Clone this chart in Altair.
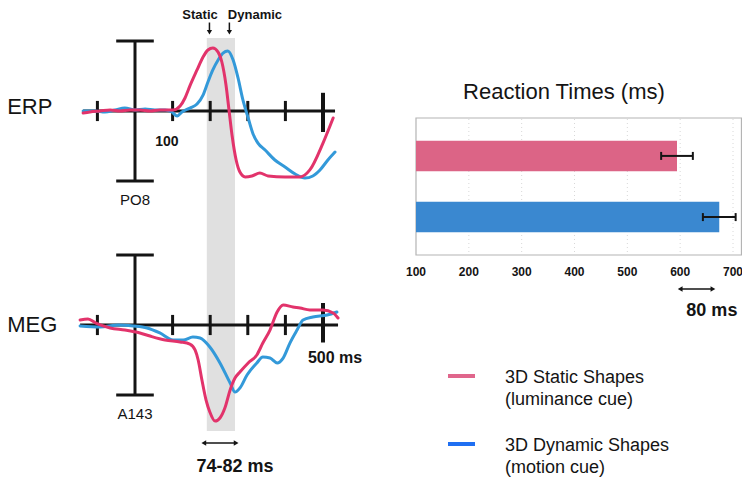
import altair as alt
import pandas as pd

FONT = "Liberation Sans, Arial, Helvetica, sans-serif"

# ---------------- data ----------------
SERIES = ["3D Static Shapes", "3D Dynamic Shapes"]
SERIES_SUB = ["(luminance cue)", "(motion cue)"]

# ERP at PO8: (time ms, amplitude)
erp_static = [(-138, -0.14), (-120, -0.07), (-93, 0), (-66, 0.07), (-40, 0), (-13, 0.07),
              (13, 0.07), (40, 0), (66, 0.07), (88, 0.07), (101, 0.07), (120, 0.36),
              (133, 0.93), (146, 1.79), (165, 2.93), (181, 3.86), (194, 4.36), (207, 4.5),
              (221, 4.21), (231, 3.5), (242, 1.86), (250, 0.07), (258, -1.71), (269, -3.5),
              (279, -4.36), (293, -4.71), (311, -4.64), (332, -4.43), (354, -4.64),
              (399, -4.71), (439, -4.71), (465, -4.21), (500, -2.29), (527, -0.5)]
erp_dynamic = [(-138, 0), (-106, 0), (-80, -0.07), (-53, 0.07), (-27, 0.21), (0, 0.07),
               (27, 0.14), (53, 0.07), (80, 0.07), (98, -0.07), (112, -0.36), (125, -0.07),
               (146, 0.21), (165, 0.5), (181, 1.14), (194, 2.07), (207, 2.93), (221, 3.64),
               (234, 4.14), (247, 4.29), (261, 3.64), (274, 2.36), (287, 0.79), (301, -0.5),
               (314, -1.64), (327, -2.29), (346, -2.79), (372, -3.5), (399, -4.0),
               (426, -4.5), (452, -4.79), (473, -4.64), (492, -4.21), (513, -3.5), (532, -2.93)]

# MEG at A143
meg_static = [(-146, 0.36), (-125, 0.43), (-104, 0.14), (-66, -0.21), (-27, -0.36), (13, -0.57),
              (40, -0.79), (80, -1.07), (120, -1.21), (146, -1.36), (160, -1.79), (168, -2.5),
              (178, -3.93), (189, -5.36), (199, -6.21), (213, -6.86), (226, -6.64), (239, -5.93),
              (253, -4.64), (266, -3.79), (279, -3.36), (301, -2.71), (324, -2.14), (340, -1.29),
              (359, -0.36), (378, 0.93), (394, 1.43), (420, 1.29), (439, 1.21), (465, 1.07),
              (500, 1.07), (527, 0.86), (540, 0.5)]
meg_dynamic = [(-146, -0.07), (-93, -0.14), (-45, 0), (-5, -0.07), (32, -0.21), (66, -0.57),
               (101, -1.07), (128, -1.07), (154, -0.86), (173, -0.93), (199, -1.57), (226, -2.71),
               (253, -4.14), (266, -4.79), (279, -4.5), (298, -3.57), (324, -2.71), (340, -2.29),
               (359, -2.36), (378, -2.71), (394, -2.36), (412, -1.29), (431, -0.36), (447, 0.36),
               (473, 0.57), (511, 0.71), (537, 0.93)]

time_ticks = [-100, 100, 200, 300, 400]
end_tick = 500
latency_window = (191, 266)          # shaded window, ms
peak_marks = [("Static", 198), ("Dynamic", 251)]

# Reaction times
conditions = ["Static", "Dynamic"]
rt_mean = [594, 674]
rt_err = [30, 31]
rt_ticks = [100, 200, 300, 400, 500, 600, 700]

# ---------------- styling ----------------
RED = "#e2336b"
BLUE = "#3399d9"
BAR_PINK = "#dc6486"
BAR_BLUE = "#3a88d0"
LEG_PINK = "#e0668c"
LEG_BLUE = "#1f6ff2"
INK = "#141414"
BAND = "#e0e0e0"

W, H = 734, 470


def px(v):
    """page pixel -> chart pixel (8px page margin, zero padding)"""
    return v - 8


def wave_panel(static, dynamic, zero_y, axis_span, end_span, band_span, name, name_amp,
               sensor, sensor_amp, extra_bold):
    xs = alt.Scale(domain=[0, 500], range=[px(135), px(323)], nice=False, zero=False)
    ys = alt.Scale(domain=[-5, 5], range=[px(zero_y + 70), px(zero_y - 70)], nice=False, zero=False)

    def X(f):
        return alt.X(f, type="quantitative", scale=xs, axis=None)

    def Y(f):
        return alt.Y(f, type="quantitative", scale=ys, axis=None)

    band = alt.Chart(pd.DataFrame([{"t1": latency_window[0], "t2": latency_window[1],
                                    "a1": band_span[0], "a2": band_span[1]}])).mark_rect(
        color=BAND).encode(x=X("t1"), x2="t2", y=Y("a1"), y2="a2")

    segs = [{"t1": axis_span[0], "t2": axis_span[1], "a1": 0, "a2": 0}]
    for t in time_ticks:
        segs.append({"t1": t, "t2": t, "a1": -0.72, "a2": 0.72})
    segs.append({"t1": 0, "t2": 0, "a1": -5, "a2": 5})
    segs.append({"t1": -50, "t2": 50, "a1": 5, "a2": 5})
    segs.append({"t1": -50, "t2": 50, "a1": -5, "a2": -5})
    rules = alt.Chart(pd.DataFrame(segs)).mark_rule(color=INK, strokeWidth=3).encode(
        x=X("t1"), x2="t2", y=Y("a1"), y2="a2")
    endt = alt.Chart(pd.DataFrame([{"t": end_tick, "a1": end_span[0], "a2": end_span[1]}])).mark_rule(
        color=INK, strokeWidth=4).encode(x=X("t"), y=Y("a1"), y2="a2")

    def curve(pts, col):
        df = pd.DataFrame(pts, columns=["t", "v"])
        return alt.Chart(df).mark_line(color=col, strokeWidth=3, interpolate="monotone",
                                       strokeCap="round").encode(x=X("t"), y=Y("v"))

    label = alt.Chart(pd.DataFrame([{"t": -340, "a": name_amp, "s": name}])).mark_text(
        font=FONT, fontSize=22, align="left", baseline="middle", color=INK).encode(
        x=X("t"), y=Y("a"), text="s:N")
    sens = alt.Chart(pd.DataFrame([{"t": 0, "a": sensor_amp, "s": sensor}])).mark_text(
        font=FONT, fontSize=15, align="center", baseline="middle", color=INK).encode(
        x=X("t"), y=Y("a"), text="s:N")
    layers = [band, rules, endt, curve(dynamic, BLUE), curve(static, RED), label, sens]
    for (t, a, s, fs) in extra_bold:
        layers.append(alt.Chart(pd.DataFrame([{"t": t, "a": a, "s": s}])).mark_text(
            font=FONT, fontSize=fs, fontWeight="bold", align="center", baseline="middle",
            color=INK).encode(x=X("t"), y=Y("a"), text="s:N"))
    return layers, X, Y


# ERP panel
erp_layers, EX, EY = wave_panel(erp_static, erp_dynamic, 111, (-138, 532), (1.3, -1.5),
                                (5.21, -9.22), "ERP", 0.29, "PO8", -6.36,
                                [(85, -2.2, "100", 14)])
# peak markers: labels and arrows
pk = pd.DataFrame([{"name": n, "t": t} for n, t in peak_marks])
pk_lab = pd.DataFrame([{"name": "Static", "t": 173}, {"name": "Dynamic", "t": 319}])
erp_layers.append(alt.Chart(pk_lab).transform_calculate(a="6.86").mark_text(
    font=FONT, fontSize=13, fontWeight="bold", baseline="middle", color=INK).encode(
    x=EX("t"), y=EY("a"), text="name:N"))
erp_layers.append(alt.Chart(pk).transform_calculate(a1="6.32", a2="5.75").mark_rule(
    color=INK, strokeWidth=1.5).encode(x=EX("t"), y=EY("a1"), y2="a2"))
erp_layers.append(alt.Chart(pk).transform_calculate(a="5.62").mark_point(
    shape="triangle-down", filled=True, color=INK, size=28, opacity=1).encode(
    x=EX("t"), y=EY("a")))
erp = alt.layer(*erp_layers)

# MEG panel
meg_layers, MX, MY = wave_panel(meg_static, meg_dynamic, 325, (-146, 540), (1.57, -1.25),
                                (6.07, -7.57), "MEG", 0.0, "A143", -6.36,
                                [(532, -2.36, "500 ms", 16), (266, -10.14, "74-82 ms", 18)])
arr = pd.DataFrame([{"t1": latency_window[0] - 8, "t2": latency_window[1] + 3, "a": -8.43}])
meg_layers.append(alt.Chart(arr).mark_rule(color=INK, strokeWidth=1.5).encode(
    x=MX("t1"), x2="t2", y=MY("a")))
meg_layers.append(alt.Chart(arr).mark_point(shape="triangle-left", filled=True, color=INK,
                                            size=30, opacity=1).encode(x=MX("t1"), y=MY("a")))
meg_layers.append(alt.Chart(arr).mark_point(shape="triangle-right", filled=True, color=INK,
                                            size=30, opacity=1).encode(x=MX("t2"), y=MY("a")))
meg = alt.layer(*meg_layers)

# Reaction-time bars
bx = alt.Scale(domain=[100, 700], range=[px(416), px(733)], nice=False, zero=False)
by = alt.Scale(domain=conditions, range=[px(118), px(255)], paddingInner=0.5, paddingOuter=0.37)


def BX(f):
    return alt.X(f, type="quantitative", scale=bx, axis=None)


def BY(f):
    return alt.Y(f, type="nominal", scale=by, axis=None)


rt = pd.DataFrame({"cond": conditions, "rt": rt_mean, "err": rt_err, "base": 100})
rt["lo"] = rt["rt"] - rt["err"]
rt["hi"] = rt["rt"] + rt["err"]

box = alt.Chart(pd.DataFrame([{"a": 100, "b": 716}])).mark_rect(
    fillOpacity=0, stroke="#b4b4b4", strokeWidth=1.2).encode(
    x=BX("a"), x2="b", y=alt.value(px(118)), y2=alt.value(px(255)))
grid = alt.Chart(pd.DataFrame({"v": rt_ticks[1:]})).mark_rule(
    color="#d8d8d8", strokeDash=[1, 3], strokeWidth=1).encode(
    x=BX("v"), y=alt.value(px(119)), y2=alt.value(px(254)))
bars = alt.Chart(rt).mark_bar(opacity=1).encode(
    x=BX("base"), x2="rt", y=BY("cond"),
    color=alt.Color("cond:N", scale=alt.Scale(domain=conditions, range=[BAR_PINK, BAR_BLUE]),
                    legend=None))
err = alt.Chart(rt).mark_rule(color=INK, strokeWidth=2).encode(x=BX("lo"), x2="hi", y=BY("cond"))
cap_lo = alt.Chart(rt).mark_tick(orient="vertical", size=8, thickness=2, color=INK, opacity=1).encode(
    x=BX("lo"), y=BY("cond"))
cap_hi = alt.Chart(rt).mark_tick(orient="vertical", size=8, thickness=2, color=INK, opacity=1).encode(
    x=BX("hi"), y=BY("cond"))
tick_lab = alt.Chart(pd.DataFrame({"v": rt_ticks, "s": [str(v) for v in rt_ticks]})).mark_text(
    font=FONT, fontSize=12, fontWeight="bold", baseline="middle", color=INK).encode(
    x=BX("v"), y=alt.value(px(272)), text="s:N")
title = alt.Chart(pd.DataFrame([{"v": 380, "s": "Reaction Times (ms)"}])).mark_text(
    font=FONT, fontSize=22, baseline="middle", color=INK).encode(
    x=BX("v"), y=alt.value(px(92)), text="s:N")
diff = pd.DataFrame([{"a": 600, "b": 662, "c": 660, "s": "80 ms"}])
diff_rule = alt.Chart(diff).mark_rule(color=INK, strokeWidth=1.5).encode(
    x=BX("a"), x2="b", y=alt.value(px(289)))
diff_l = alt.Chart(diff).mark_point(shape="triangle-left", filled=True, color=INK, size=30,
                                    opacity=1).encode(x=BX("a"), y=alt.value(px(289)))
diff_r = alt.Chart(diff).mark_point(shape="triangle-right", filled=True, color=INK, size=30,
                                    opacity=1).encode(x=BX("b"), y=alt.value(px(289)))
diff_t = alt.Chart(diff).mark_text(font=FONT, fontSize=18, fontWeight="bold", baseline="middle",
                                   color=INK).encode(x=BX("c"), y=alt.value(px(311)), text="s:N")
rtpanel = alt.layer(box, grid, bars, err, cap_lo, cap_hi, tick_lab, title,
                    diff_rule, diff_l, diff_r, diff_t)

# Legend
leg = pd.DataFrame({"series": SERIES,
                    "label": [a + "\n" + b for a, b in zip(SERIES, SERIES_SUB)]})
ly = alt.Scale(type="point", domain=SERIES, range=[px(376), px(444)], padding=0)
sw = alt.Chart(leg).mark_rule(strokeWidth=4).encode(
    x=alt.value(px(448)), x2=alt.value(px(475)),
    y=alt.Y("series:N", scale=ly, axis=None),
    color=alt.Color("series:N", scale=alt.Scale(domain=SERIES, range=[LEG_PINK, LEG_BLUE]),
                    legend=None))
lt = alt.Chart(leg).mark_text(font=FONT, fontSize=18, align="left", baseline="middle",
                              lineBreak="\n", lineHeight=22, dy=2, color=INK).encode(
    x=alt.value(px(505)), y=alt.Y("series:N", scale=ly, axis=None), text="label:N")
legend = alt.layer(sw, lt)

chart = alt.layer(erp, meg, rtpanel, legend).resolve_scale(
    x="independent", y="independent", color="independent"
).properties(
    width=W, height=H, padding=0, background="white",
    autosize=alt.AutoSizeParams(type="none")
).configure_view(stroke=None)

chart.save("out.html", embed_options={"renderer": "svg", "actions": False})
